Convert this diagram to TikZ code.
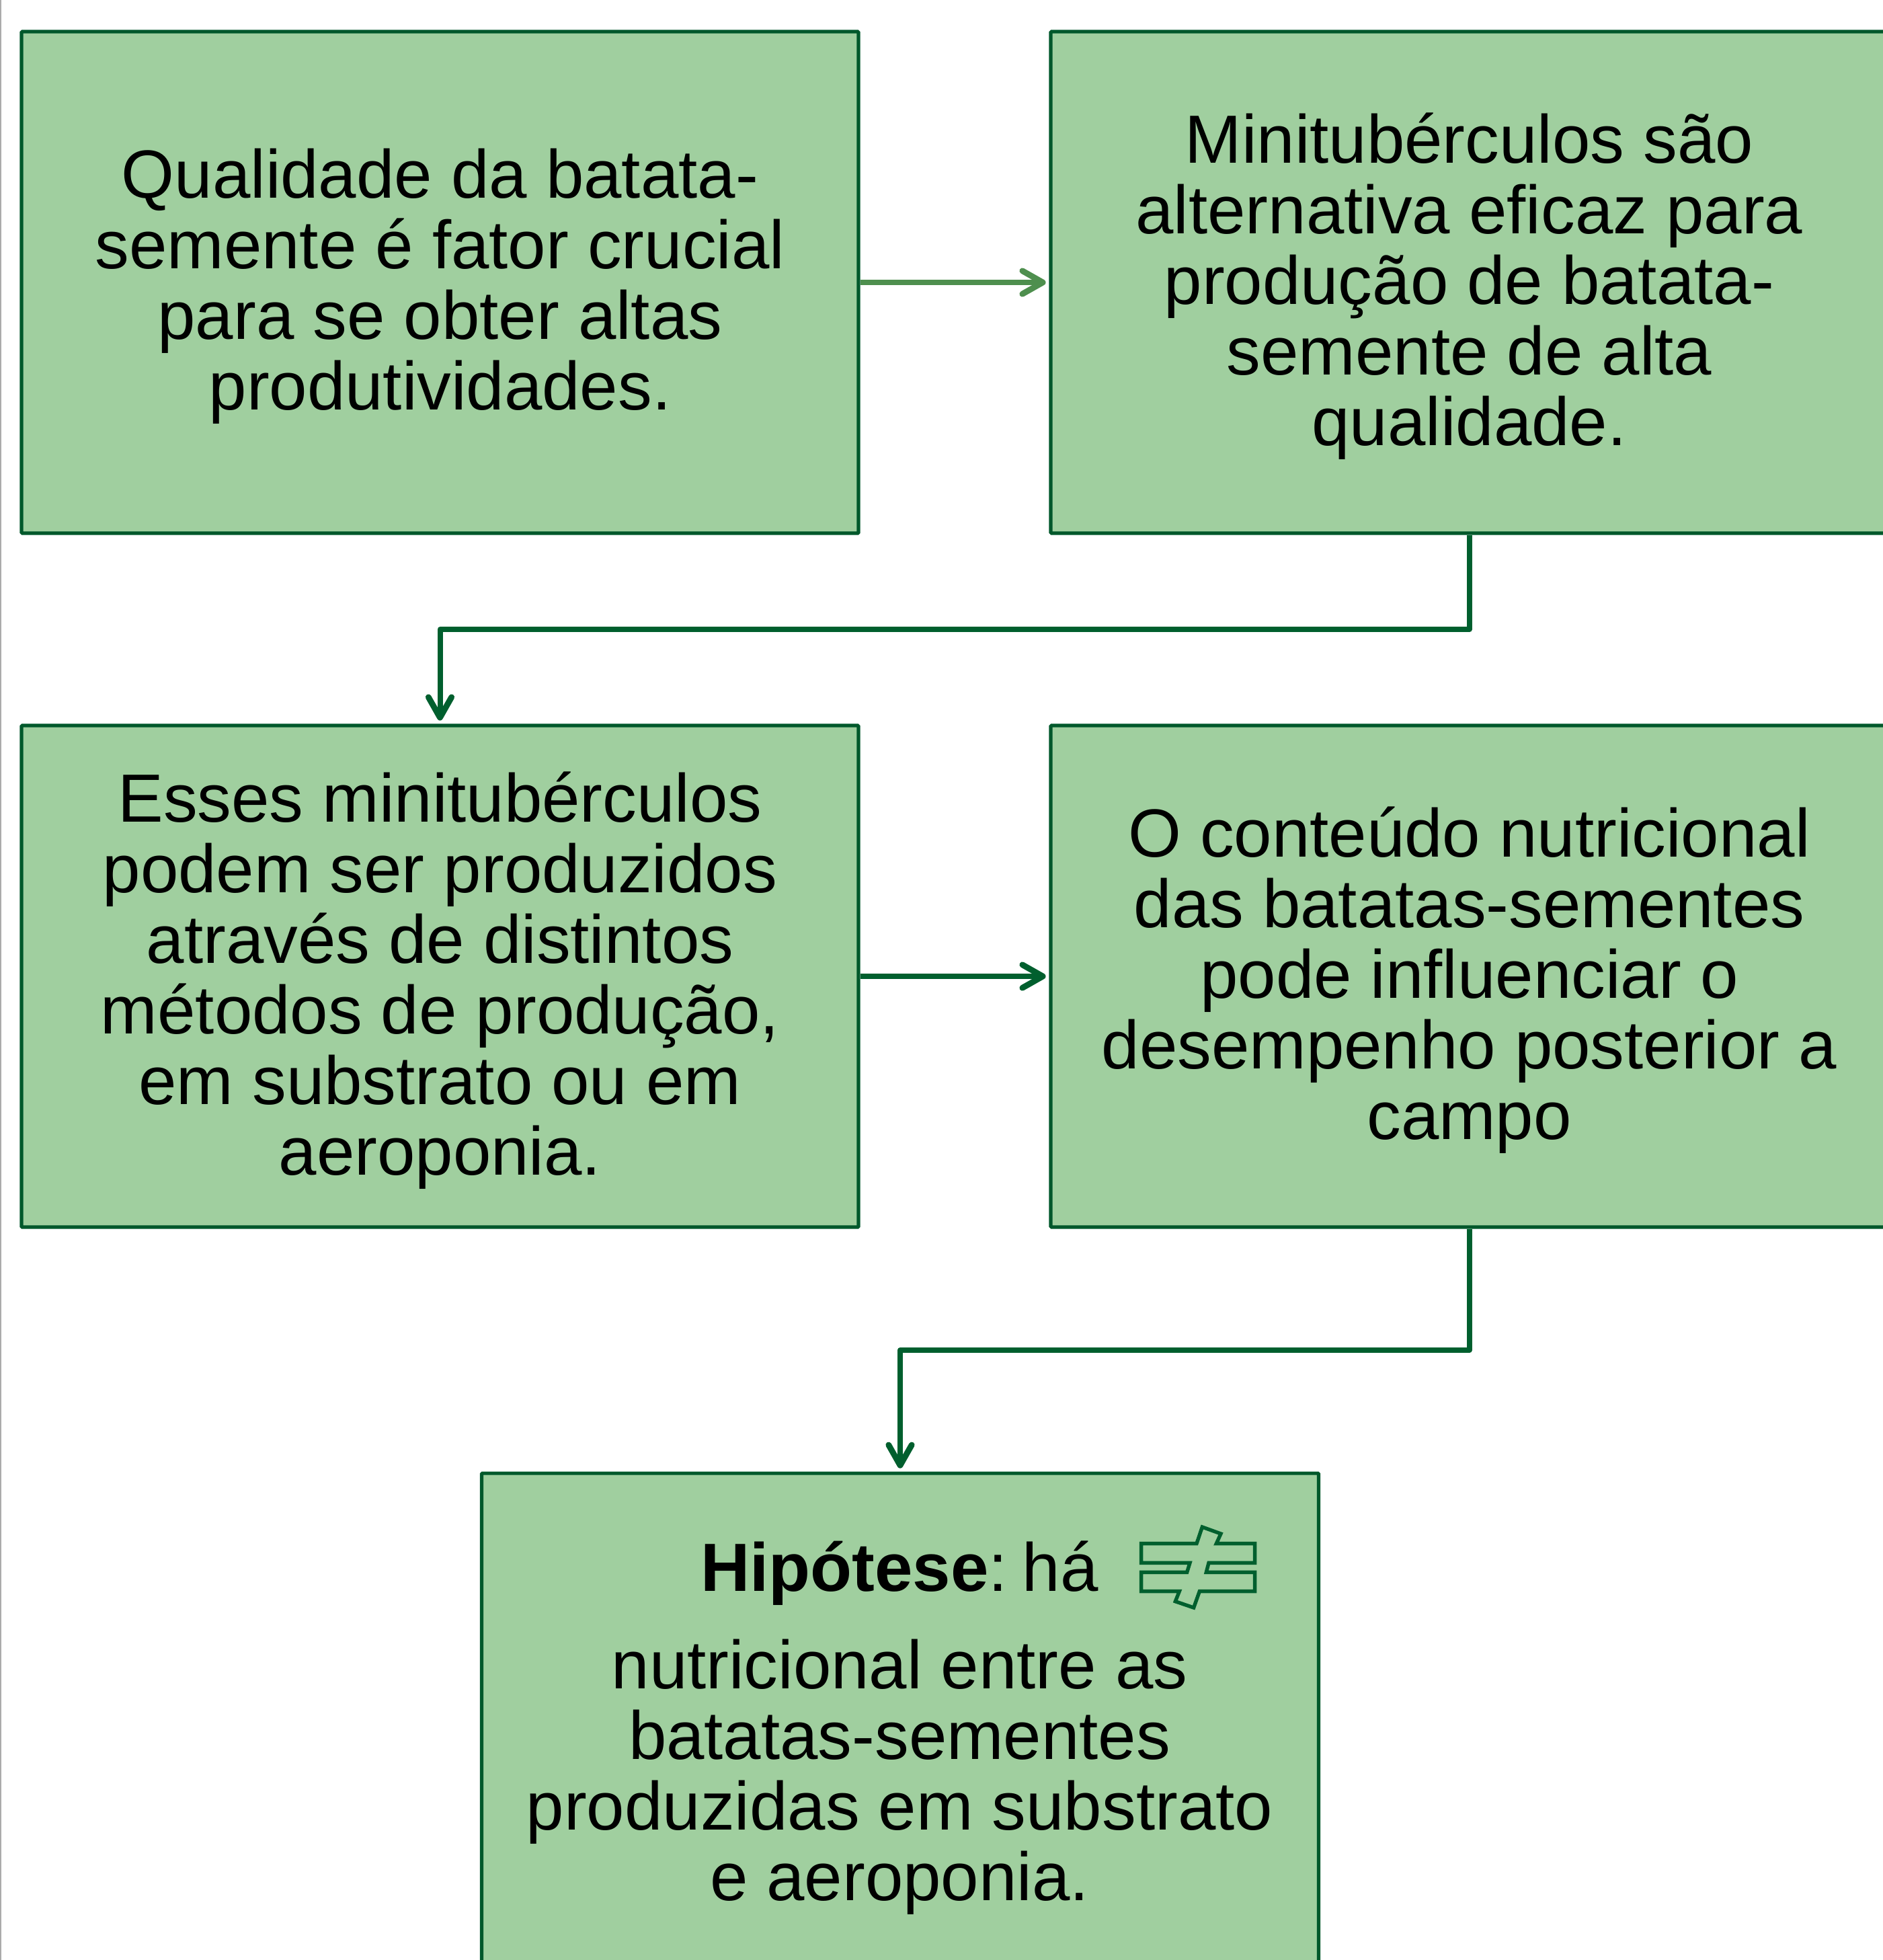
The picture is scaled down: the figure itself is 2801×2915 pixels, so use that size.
\documentclass[tikz,border=0pt]{standalone}
\usepackage{fontspec}
\setmainfont{Liberation Sans}
\usetikzlibrary{arrows.meta,calc}
\definecolor{boxfill}{HTML}{A0CF9F}
\definecolor{boxline}{HTML}{00582B}
\definecolor{darkarrow}{HTML}{005F2E}
\definecolor{lightarrow}{HTML}{4E8F4E}
\definecolor{edgegray}{HTML}{ABABAB}
\tikzset{
  flowbox/.style={draw=boxline,fill=boxfill,line width=1.3pt,rounded corners=0.3pt,minimum width=311.25pt,minimum height=186.5pt,inner sep=0pt},
  flowtext/.style={inner sep=0pt,align=center,text=black,font=\fontsize{25.35pt}{26.25pt}\selectfont},
  flowarrow/.style={line width=2pt,line join=round,-{Straight Barb[length=7.6pt,width=8.6pt,line width=2.2pt,round]},shorten >=1.2pt},
  darklink/.style={flowarrow,draw=darkarrow},
  lightlink/.style={flowarrow,draw=lightarrow},
  neqicon/.style={draw=darkarrow,line width=1.35pt,miter limit=10}
}
\begin{document}
\begin{tikzpicture}[x=0.25pt,y=-0.25pt]
\useasboundingbox (0,0) rectangle (2801,2915);
\fill[edgegray] (0,0) rectangle (2,2915);
\node[flowbox] (a) at (654.5,420) {};
\node[flowbox] (b) at (2185.5,420) {};
\node[flowbox] (c) at (654.5,1452) {};
\node[flowbox] (d) at (2185.5,1452) {};
\node[flowbox,anchor=north] (e) at (1339,2188.5) {};
\node[flowtext] (atext) at ($(a.center)+(0,6)$) {Qualidade da batata-\\semente é fator crucial\\para se obter altas\\produtividades.};
\node[flowtext] (btext) at ($(b.center)+(0,6)$) {Minitubérculos são\\alternativa eficaz para\\produção de batata-\\semente de alta\\qualidade.};
\node[flowtext] (ctext) at ($(c.center)+(0,6)$) {Esses minitubérculos\\podem ser produzidos\\através de distintos\\métodos de produção,\\em substrato ou em\\aeroponia.};
\node[flowtext] (dtext) at ($(d.center)+(0,6)$) {O conteúdo nutricional\\das batatas-sementes\\pode influenciar o\\desempenho posterior a\\campo};
\node[flowtext,anchor=base] (h) at (1338,2366) {\textbf{Hipótese}:\kern-1.6pt\ há};
\node[flowtext] (t) at (1338,2643) {nutricional entre as\\batatas-sementes\\produzidas em substrato\\e aeroponia.};
\coordinate (bend1) at (0,936);
\coordinate (bend2) at (0,2008);
\draw[lightlink] (a.east) -- (b.west);
\draw[darklink] (b.south) -- (b.south |- bend1) -- (c.north |- bend1) -- (c.north);
\draw[darklink] (c.east) -- (d.west);
\draw[darklink] (d.south) -- (d.south |- bend2) -- (e.north |- bend2) -- (e.north);
\begin{scope}[shift={(1600,2200)},x=0.0833333pt,y=-0.0833333pt]
\draw[neqicon] (293,287) -- (540,287) -- (565,213) -- (648,243) -- (628,287) -- (800,287) -- (800,373) -- (594,373) -- (583,415) -- (800,415) -- (800,500) -- (553,500) -- (527,573) -- (445,545) -- (463,500) -- (293,500) -- (293,415) -- (497,415) -- (510,373) -- (293,373) -- cycle;
\end{scope}
\end{tikzpicture}
\end{document}
